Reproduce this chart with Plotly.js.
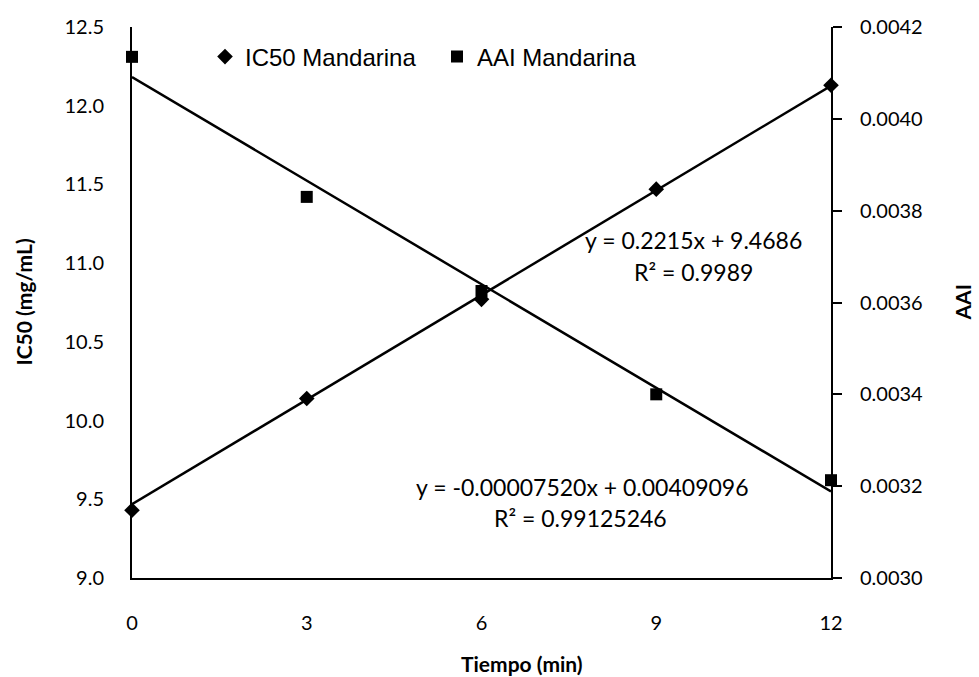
<!DOCTYPE html>
<html>
<head>
<meta charset="utf-8">
<script src="https://cdn.plot.ly/plotly-3.0.1.min.js"></script>
<style>html,body{margin:0;padding:0;background:#fff}#chart{width:979px;height:677px}</style>
</head>
<body>
<div id="chart"></div>
<script>
// Data
const tiempo = [0, 3, 6, 9, 12];
const ic50 = [9.43, 10.14, 10.77, 11.47, 12.13];
const aai = [0.004135, 0.00383, 0.003625, 0.0034, 0.003213];
// Trendline coefficients (from the chart's equations)
const ic50Fit = {slope: 0.2215, intercept: 9.4686};
const aaiFit = {slope: -0.00007520, intercept: 0.00409096};
const eqIC50 = ["y = 0.2215x + 9.4686", "R\u00B2 = 0.9989"];
const eqAAI = ["y = -0.00007520x + 0.00409096", "R\u00B2 = 0.99125246"];

const xEnds = [tiempo[0], tiempo[tiempo.length - 1]];
const fitLine = f => xEnds.map(x => f.intercept + f.slope * x);

const tickFont = {family: "Lato, 'Open Sans', sans-serif", size: 20, color: "#000"};
const titleFont = {family: "Lato, 'Open Sans', sans-serif", size: 21, color: "#000", weight: "bold"};
const eqFont = {family: "Lato, 'Open Sans', sans-serif", size: 23, color: "#000"};

const traces = [
  {x: xEnds, y: fitLine(ic50Fit), mode: "lines", line: {color: "#000", width: 2.5}, showlegend: false, hoverinfo: "skip", yaxis: "y"},
  {x: xEnds, y: fitLine(aaiFit), mode: "lines", line: {color: "#000", width: 2.5}, showlegend: false, hoverinfo: "skip", yaxis: "y2"},
  {x: tiempo, y: ic50, name: "IC50 Mandarina", mode: "markers", marker: {symbol: "diamond", size: 12, color: "#000"}, yaxis: "y", cliponaxis: false},
  {x: tiempo, y: aai, name: "AAI Mandarina", mode: "markers", marker: {symbol: "square", size: 12, color: "#000"}, yaxis: "y2", cliponaxis: false}
];

const layout = {
  width: 979, height: 677,
  margin: {l: 132, r: 148, t: 27, b: 99},
  paper_bgcolor: "#fff", plot_bgcolor: "#fff",
  showlegend: true,
  legend: {orientation: "h", x: (205 - 132) / 699, y: (578 - 57) / 551, xanchor: "left", yanchor: "middle",
    font: {family: "'Liberation Sans', Arial, sans-serif", size: 24, color: "#000"},
    bgcolor: "rgba(0,0,0,0)", itemwidth: 30, entrywidth: 187, entrywidthmode: "pixels", borderwidth: 0},
  xaxis: {range: [0, 12], tickvals: tiempo, ticktext: tiempo.map(String), showgrid: false, zeroline: false,
    showline: true, linecolor: "#000", linewidth: 2, ticks: "", tickfont: tickFont, ticklabelstandoff: 26},
  yaxis: {range: [9, 12.5], dtick: 0.5, tickformat: ".1f", showgrid: false, zeroline: false,
    showline: true, linecolor: "#000", linewidth: 2, ticks: "", tickfont: tickFont, ticklabelstandoff: 22},
  yaxis2: {range: [0.003, 0.0042], dtick: 0.0002, tickformat: ".4f", overlaying: "y", side: "right",
    showgrid: false, zeroline: false, showline: true, linecolor: "#000", linewidth: 2,
    ticks: "outside", ticklen: 9, tickwidth: 2, tickcolor: "#000", tickfont: tickFont, ticklabelstandoff: 14},
  annotations: [
    {xref: "paper", yref: "paper", x: (693 - 132) / 699, y: (578 - 240) / 551, text: eqIC50[0], showarrow: false, font: eqFont, xanchor: "center", yanchor: "middle"},
    {xref: "paper", yref: "paper", x: (693 - 132) / 699, y: (578 - 272) / 551, text: eqIC50[1], showarrow: false, font: eqFont, xanchor: "center", yanchor: "middle"},
    {xref: "paper", yref: "paper", x: (751 - 132) / 699, y: (578 - 487) / 551, text: eqAAI[0], showarrow: false, font: eqFont, xanchor: "right", yanchor: "middle"},
    {xref: "paper", yref: "paper", x: (669 - 132) / 699, y: (578 - 518) / 551, text: eqAAI[1], showarrow: false, font: eqFont, xanchor: "right", yanchor: "middle"},
    {xref: "paper", yref: "paper", x: (522 - 132) / 699, y: (578 - 663) / 551, text: "Tiempo (min)", showarrow: false, font: titleFont, xanchor: "center", yanchor: "middle"},
    {xref: "paper", yref: "paper", x: (23 - 132) / 699, y: 0.5, text: "IC50 (mg/mL)", textangle: -90, showarrow: false, font: titleFont, xanchor: "center", yanchor: "middle"},
    {xref: "paper", yref: "paper", x: (962 - 132) / 699, y: 0.5, text: "AAI", textangle: -90, showarrow: false, font: titleFont, xanchor: "center", yanchor: "middle"}
  ]
};

Plotly.newPlot("chart", traces, layout, {staticPlot: true, displayModeBar: false});
</script>
</body>
</html>
